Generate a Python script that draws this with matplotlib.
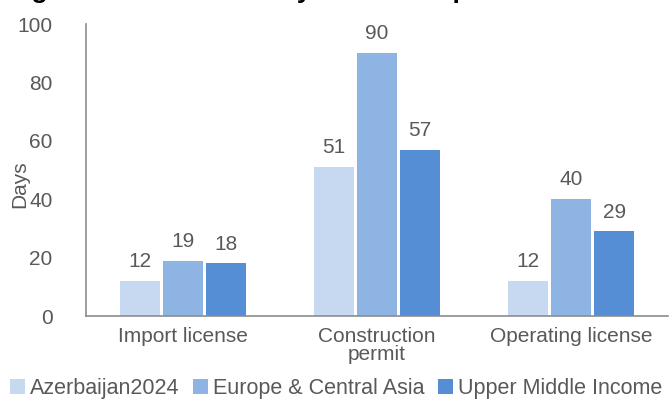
import numpy as np
import matplotlib.pyplot as plt

categories = ['Import license', 'Construction\npermit', 'Operating license']
series = ['Azerbaijan2024', 'Europe & Central Asia', 'Upper Middle Income']
azerbaijan = [12, 51, 12]
eca = [19, 90, 40]
umi = [18, 57, 29]
colors = ['#C7D9F1', '#8EB4E3', '#558ED5']

plt.rcParams['font.family'] = ['Liberation Sans', 'DejaVu Sans']
grey = '#595959'
fs = 15

fig = plt.figure(figsize=(6.72, 4.04), dpi=100)
ax = fig.add_axes([86 / 672, 1 - 316 / 404, 582 / 672, 292 / 404])

x = np.arange(len(categories))
w = 0.21
for i, (vals, name) in enumerate(zip([azerbaijan, eca, umi], series)):
    bars = ax.bar(x + (i - 1) * (w + 0.012), vals, w, color=colors[i], label=name)
    ax.bar_label(bars, padding=7, fontsize=fs, color=grey)

ax.set_xlim(-0.5, 2.5)
ax.set_ylim(0, 100)
ax.set_yticks(range(0, 101, 20))
ax.set_xticks(x)
ax.set_xticklabels(categories, fontsize=fs, color=grey, linespacing=0.95)
ax.tick_params(axis='y', labelsize=fs, colors=grey, length=0, pad=24)
ax.tick_params(axis='x', length=0, pad=8)
for s in ['top', 'right']:
    ax.spines[s].set_visible(False)
ax.spines['left'].set_color('#8c8c8c')
ax.spines['bottom'].set_color('#8c8c8c')
ax.spines['left'].set_linewidth(1.2)
ax.spines['bottom'].set_linewidth(1.2)
ax.set_ylabel('Days', fontsize=fs, color=grey)
ax.yaxis.set_label_coords(-0.098, 0.45)

fig.legend(loc='lower center', bbox_to_anchor=(0.5, -0.035), ncol=3, frameon=False,
           fontsize=15.5, handlelength=0.7, handleheight=0.7, handletextpad=0.25,
           columnspacing=0.6, labelcolor=grey)

# title cut off at the top edge of the image
fig.text(0.012, 1.006, 'Figure 5: Number of days to obtain permits', fontsize=19,
         fontweight='bold', color='black', va='baseline', ha='left')

fig.savefig('out.png', dpi=100)
